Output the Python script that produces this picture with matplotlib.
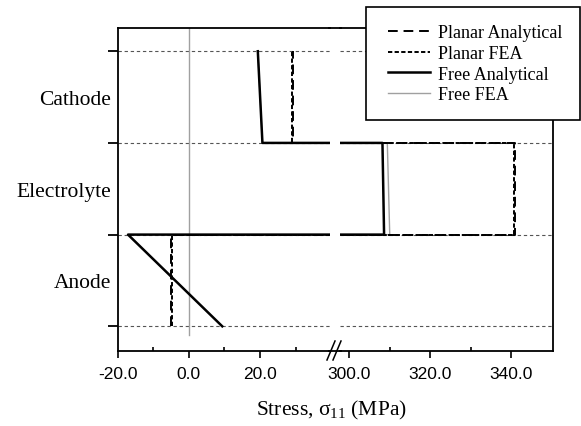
import matplotlib
matplotlib.use("Agg")
import matplotlib.pyplot as plt
from matplotlib.lines import Line2D
from matplotlib.legend_handler import HandlerLine2D

plt.rcParams["mathtext.fontset"] = "custom"
plt.rcParams["mathtext.rm"] = "Liberation Serif"
plt.rcParams["mathtext.it"] = "Liberation Serif:italic"

# ---- data ----
layer_bounds = [0, 1, 2, 3]
layer_names = ["Anode", "Electrolyte", "Cathode"]
layer_centers = [0.5, 1.5, 2.5]

# stress paths (x = stress MPa, y = layer position), bottom of anode -> top of cathode
path_y = [0, 1, 1, 2, 2, 3]
planar_analytical = [-5.0, -5.0, 341.0, 341.0, 29.2, 29.2]
planar_fea = [-4.8, -4.8, 340.8, 340.8, 29.0, 29.0]
free_analytical = [9.4, -17.1, 308.6, 308.2, 20.7, 19.4]
free_fea = [9.4, -17.1, 310.0, 309.4, 20.7, 19.4]

left_ticks = [-20.0, 0.0, 20.0]
left_minor = [-10.0, 10.0, 30.0]
right_ticks = [300.0, 320.0, 340.0]
right_minor = [310.0, 330.0]

W, H = 581, 427
fig = plt.figure(figsize=(W / 100, H / 100), dpi=100)

def fx(p):
    return p / W

def fy(p):
    return 1 - p / H

bot, top = 351.7, 29.3
axL = fig.add_axes([fx(117.7), fy(bot), fx(330 - 117.7), (bot - top) / H])
axR = fig.add_axes([fx(340), fy(bot), fx(552.7 - 340), (bot - top) / H])

serif = "Liberation Serif"
sans = "Liberation Sans"

styles = [
    ("Planar Analytical", planar_analytical, dict(color="black", lw=1.4, linestyle=(0, (5, 3)), zorder=4)),
    ("Planar FEA", planar_fea, dict(color="black", lw=1.4, linestyle=(0, (2.2, 1.2)), zorder=4)),
    ("Free Analytical", free_analytical, dict(color="black", lw=1.8, linestyle="-", zorder=3)),
    ("Free FEA", free_fea, dict(color="#a0a0a0", lw=1.0, linestyle="-", zorder=2)),
]

ylim = (-0.266, 3.25)
for ax in (axL, axR):
    for b in layer_bounds:
        ax.axhline(b, color="#555555", lw=0.8, linestyle=(0, (3, 2.5)), zorder=1)
    for name, xs, st in styles:
        ax.plot(xs, path_y, label=name, **st)
    ax.set_ylim(*ylim)
    for s in ax.spines.values():
        s.set_linewidth(1.3)

# zero reference line
axL.plot([0, 0], [-0.095, ylim[1]], color="#a0a0a0", lw=1.0, zorder=2)

axL.set_xlim(-20, 39.7)
axR.set_xlim(297.7, 350.3)
axL.spines["right"].set_visible(False)
axR.spines["left"].set_visible(False)

axL.set_xticks(left_ticks)
axL.set_xticks(left_minor, minor=True)
axL.set_xticklabels([f"{v:.1f}" for v in left_ticks], fontfamily=sans, fontsize=12.5)
axR.set_xticks(right_ticks)
axR.set_xticks(right_minor, minor=True)
axR.set_xticklabels([f"{v:.1f}" for v in right_ticks], fontfamily=sans, fontsize=12.5)

for ax in (axL, axR):
    ax.tick_params(axis="x", which="major", direction="out", length=5, width=1.2, pad=6)
    ax.tick_params(axis="x", which="minor", direction="in", length=3, width=1.2)

axL.set_yticks(layer_bounds)
axL.set_yticklabels([])
axL.set_yticks(layer_centers, minor=True)
axL.set_yticklabels(layer_names, minor=True, fontfamily=serif, fontsize=15.5)
axL.tick_params(axis="y", which="major", direction="out", length=7, width=1.3)
axL.tick_params(axis="y", which="minor", length=0, pad=5)
axR.tick_params(axis="y", which="both", left=False, right=False, labelleft=False)

# spine bridge across the break and break marks
for yy in (bot, top):
    fig.add_artist(Line2D([fx(329), fx(341)], [fy(yy), fy(yy)], color="black", lw=1.3,
                          transform=fig.transFigure))
for dx in (0, 6):
    fig.add_artist(Line2D([fx(327 + dx), fx(335 + dx)], [fy(361), fy(342)], color="black",
                          lw=1.1, transform=fig.transFigure))

fig.text(fx(331.7), fy(415), r"Stress, σ$_{11}$ (MPa)", ha="center", va="baseline",
         fontfamily=serif, fontsize=15.5)

handles, labels = axL.get_legend_handles_labels()
leg = fig.legend(handles, labels, loc="upper left",
                 bbox_to_anchor=(fx(365.7), fy(8.3) - 0.01, fx(580 - 365.7), 0.01),
                 mode="expand", frameon=True, fancybox=False, framealpha=1,
                 edgecolor="black", prop={"family": serif, "size": 13},
                 handlelength=2.6, handletextpad=0.45, labelspacing=0.2,
                 borderpad=0.95, borderaxespad=0,
                 handler_map={Line2D: HandlerLine2D(xpad=0.26)})
leg.get_frame().set_linewidth(1.2)
leg.set_zorder(10)

fig.savefig("out.png", dpi=100)
